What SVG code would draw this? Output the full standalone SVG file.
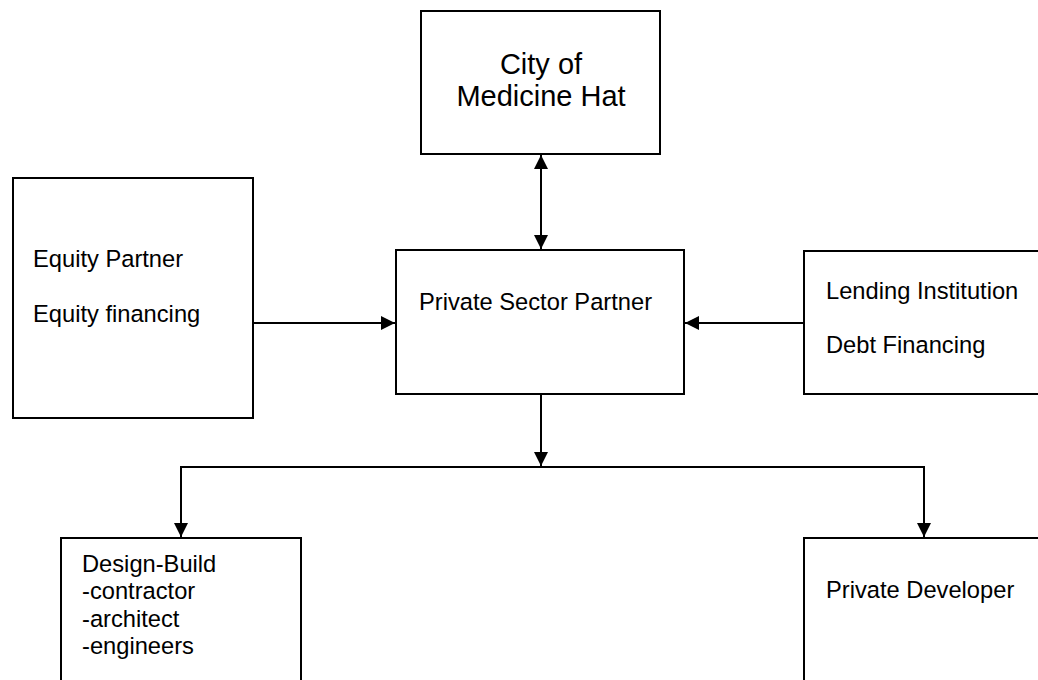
<svg xmlns="http://www.w3.org/2000/svg" width="1038" height="680" viewBox="0 0 1038 680">
<style>
.box{fill:#fff;stroke:#000;stroke-width:2}
.t{font-family:"Liberation Sans",Arial,sans-serif;font-size:23.7px;fill:#000}
.big{font-family:"Liberation Sans",Arial,sans-serif;font-size:29px;fill:#000}
.ln{fill:none;stroke:#000;stroke-width:2}
</style>
<defs>
<marker id="ah" markerWidth="14" markerHeight="14" refX="14" refY="7" orient="auto" markerUnits="userSpaceOnUse">
<path d="M0,0 L14,7 L0,14 Z" fill="#000"/>
</marker>
<marker id="as" markerWidth="14" markerHeight="14" refX="0" refY="7" orient="auto" markerUnits="userSpaceOnUse">
<path d="M14,0 L0,7 L14,14 Z" fill="#000"/>
</marker>
</defs>
<rect width="1038" height="680" fill="#fff"/>
<g id="connectors">
<line class="ln" x1="541" y1="155" x2="541" y2="249" marker-start="url(#as)" marker-end="url(#ah)"/>
<line class="ln" x1="253" y1="323" x2="395" y2="323" marker-end="url(#ah)"/>
<line class="ln" x1="804" y1="323" x2="685" y2="323" marker-end="url(#ah)"/>
<line class="ln" x1="541" y1="394" x2="541" y2="466" marker-end="url(#ah)"/>
<polyline class="ln" points="181,537 181,467 924,467 924,537" marker-start="url(#as)" marker-end="url(#ah)"/>
</g>
<g id="city">
<rect class="box" x="421" y="11" width="239" height="143"/>
<text class="big" x="541" y="74" text-anchor="middle">City of</text>
<text class="big" x="541" y="106" text-anchor="middle">Medicine Hat</text>
</g>
<g id="equity">
<rect class="box" x="13" y="178" width="240" height="240"/>
<text class="t" x="33" y="267">Equity Partner</text>
<text class="t" x="33" y="322">Equity financing</text>
</g>
<g id="private-sector">
<rect class="box" x="396" y="250" width="288" height="144"/>
<text class="t" x="419" y="310">Private Sector Partner</text>
</g>
<g id="lending">
<rect class="box" x="804" y="251" width="250" height="143"/>
<text class="t" x="826" y="299">Lending Institution</text>
<text class="t" x="826" y="353">Debt Financing</text>
</g>
<g id="design-build">
<rect class="box" x="61" y="538" width="240" height="160"/>
<text class="t" x="82" y="572">Design-Build</text>
<text class="t" x="82" y="599">-contractor</text>
<text class="t" x="82" y="627">-architect</text>
<text class="t" x="82" y="654">-engineers</text>
</g>
<g id="developer">
<rect class="box" x="804" y="538" width="250" height="160"/>
<text class="t" x="826" y="598">Private Developer</text>
</g>
</svg>
